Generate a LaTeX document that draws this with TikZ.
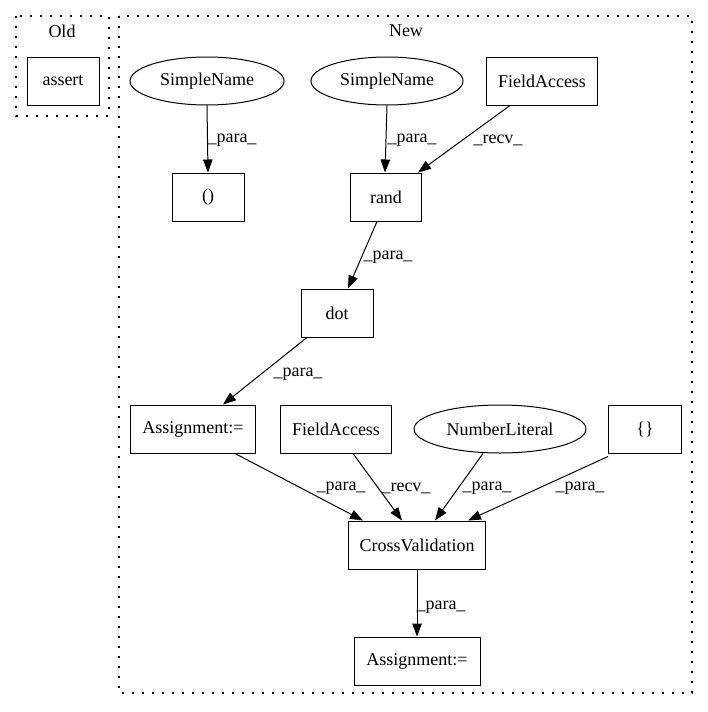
\documentclass[tikz,border=0pt]{standalone}
\usepackage{fontspec}
\setmainfont{Liberation Serif}
\usetikzlibrary{arrows.meta,shapes.geometric}
\begin{document}
\begin{tikzpicture}[x=1pt,y=-1pt,
  every node/.style={font=\fontsize{18}{20}\selectfont, inner sep=0pt},
  boxnode/.style={draw, line width=1pt, rectangle, minimum height=48pt},
  ellnode/.style={draw, line width=1pt, ellipse, minimum height=48pt},
  cluster/.style={draw, line width=1.3pt, dash pattern=on 1.6pt off 8.4pt},
  edgeline/.style={draw, line width=1pt, -{Triangle[length=13pt,width=9.5pt]}},
  elabel/.style={font=\fontsize{18}{20}\selectfont}
]
\useasboundingbox (0,0) rectangle (708,712);
\fill[white] (0,0) rectangle (708,712);

% clusters
\draw[cluster] (16,16) rectangle (109,116);
\node (oldlbl) at (62,31) {Old};
\draw[cluster] (119,16) rectangle (692,693);
\node (newlbl) at (406,31) {New};

% Old
\node[boxnode, minimum width=72pt] (assert) at (63,81) {assert};

% New nodes
\node[ellnode, minimum width=154pt] (sn1) at (207,81) {SimpleName};
\node[ellnode, minimum width=152pt] (sn2) at (387,81) {SimpleName};
\node[boxnode, minimum width=111pt] (fa1) at (542,81) {FieldAccess};
\node[boxnode, minimum width=72pt] (paren) at (208,197) {()};
\node[boxnode, minimum width=71pt] (rand) at (386,197) {rand};
\node[boxnode, minimum width=72pt] (dot) at (337,313) {dot};
\node[boxnode, minimum width=125pt] (asg1) at (193,429) {Assignment:=};
\node[boxnode, minimum width=111pt] (fa2) at (336,429) {FieldAccess};
\node[ellnode, minimum width=172pt] (num) at (500,429) {NumberLiteral};
\node[boxnode, minimum width=73pt] (braces) at (645,429) {\{\}};
\node[boxnode, minimum width=137pt] (cv) at (417,545) {CrossValidation};
\node[boxnode, minimum width=126pt] (asg2) at (417,661) {Assignment:=};

% edges
\draw[edgeline] (sn1.south) -- (paren.north);
\node[elabel] (l1) at (232,140) {\_para\_};

\draw[edgeline] (sn2.south) -- ([xshift=-1pt]rand.north);
\node[elabel] (l2) at (412,140) {\_para\_};

\draw[edgeline] ([xshift=-32pt]fa1.south) -- ([xshift=32pt]rand.north);
\node[elabel] (l3) at (498,140) {\_recv\_};

\draw[edgeline] ([xshift=-9pt]rand.south) -- ([xshift=11pt]dot.north);
\node[elabel] (l4) at (388,257) {\_para\_};

\draw[edgeline] ([xshift=-30pt]dot.south) -- ([xshift=30pt]asg1.north);
\node[elabel] (l5) at (298,374) {\_para\_};

\draw[edgeline] ([xshift=42pt]asg1.south) -- ([xshift=-54pt]cv.north);
\node[elabel] (l6) at (341,488) {\_para\_};

\draw[edgeline] ([xshift=17pt]fa2.south) -- ([xshift=-15pt]cv.north);
\node[elabel] (l7) at (406,488) {\_recv\_};

\draw[edgeline] ([xshift=-17pt]num.south) -- ([xshift=18pt]cv.north);
\node[elabel] (l8) at (487,488) {\_para\_};

\draw[edgeline] ([yshift=-3pt]braces.south west) -- ([xshift=51pt]cv.north);
\node[elabel] (l9) at (580,488) {\_para\_};

\draw[edgeline] (cv.south) -- (asg2.north);
\node[elabel] (l10) at (441,607) {\_para\_};
\end{tikzpicture}
\end{document}
